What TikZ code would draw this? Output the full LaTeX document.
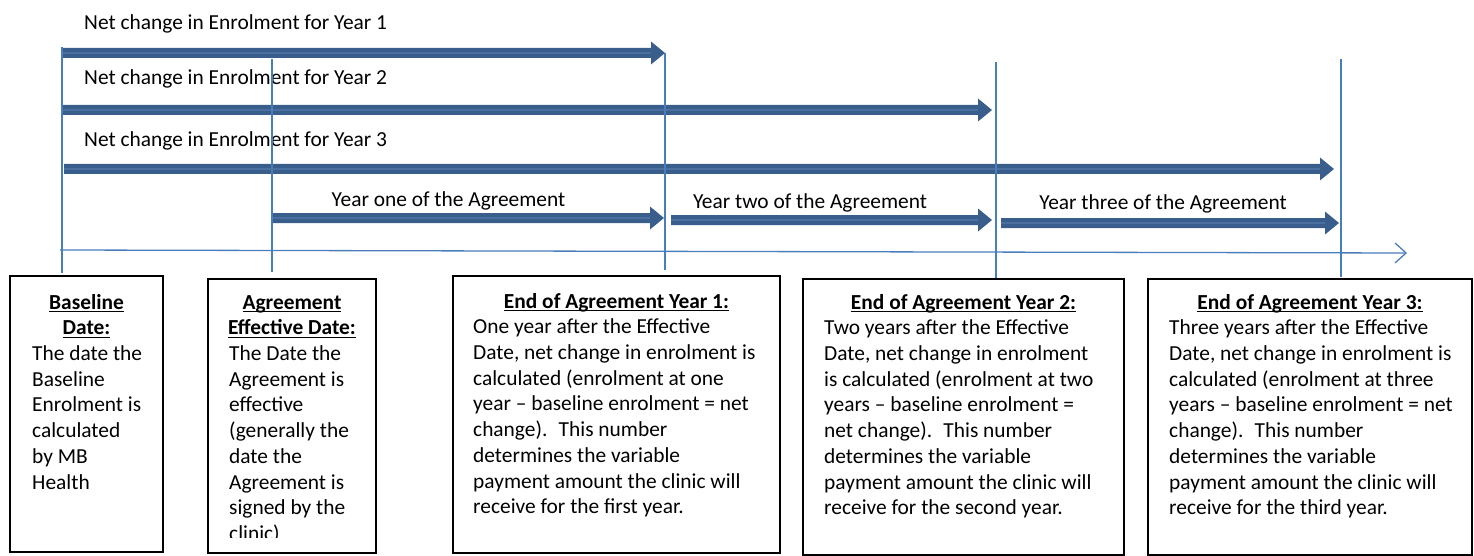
\documentclass[tikz,border=0pt]{standalone}
\usepackage{fontspec}
\setmainfont{Carlito}
\usetikzlibrary{arrows.meta,calc}
\definecolor{arrowdark}{HTML}{395E8C}
\definecolor{arrowlight}{HTML}{4A70A2}
\definecolor{lineblue}{HTML}{4A7EBB}
\newcommand\hdul[1]{\setbox0\hbox{#1}\rlap{\rule[-3.2pt]{\wd0}{1.5pt}}\box0}
\newcommand\barrow[2]{%
  \fill[arrowdark] ($(#1)+(0,-5)$) -- ($(#2)+(-14,-5)$) -- ($(#2)+(-14,-11.5)$) -- (#2)
     -- ($(#2)+(-14,11.5)$) -- ($(#2)+(-14,5)$) -- ($(#1)+(0,5)$) -- cycle;
  \draw[arrowlight, line width=1.6pt] (#1) -- ($(#2)+(-14,0)$);}
\begin{document}
\begin{tikzpicture}[x=1pt,y=-1pt,
  txt/.style={font=\fontsize{21.4}{25.7}\selectfont, inner sep=0pt},
  head/.style={txt, font=\fontsize{21.4}{25.7}\selectfont\bfseries, anchor=north, align=center},
  body/.style={txt, anchor=north west, align=left},
  box/.style={draw=black, line width=1.6pt, fill=none},
  vline/.style={draw=lineblue, line width=1.3pt},
  axis/.style={draw=lineblue, line width=1.3pt, -{Straight Barb[length=11pt,width=20pt]}}]
\useasboundingbox (0,0) rectangle (1474,556);

% labels above arrows
\node[txt, anchor=base west] (l1) at (84,29.7) {Net change in Enrolment for Year 1};
\node[txt, anchor=base west] (l2) at (84,85) {Net change in Enrolment for Year 2};
\node[txt, anchor=base west] (l3) at (84,147) {Net change in Enrolment for Year 3};
\node[txt, anchor=base] (y1) at (448.5,206) {Year one of the Agreement};
\node[txt, anchor=base] (y2) at (810,208) {Year two of the Agreement};
\node[txt, anchor=base] (y3) at (1163,209) {Year three of the Agreement};

% arrow end points
\coordinate (n1s) at (62,53);   \coordinate (n1e) at (665,53);
\coordinate (n2s) at (62,110);  \coordinate (n2e) at (992,110);
\coordinate (n3s) at (64,169);  \coordinate (n3e) at (1334,169);
\coordinate (a1s) at (271,218); \coordinate (a1e) at (664,218);
\coordinate (a2s) at (671,220); \coordinate (a2e) at (992,220);
\coordinate (a3s) at (1001,223);\coordinate (a3e) at (1339,223);
\barrow{n1s}{n1e}
\barrow{n2s}{n2e}
\barrow{n3s}{n3e}
\barrow{a1s}{a1e}
\barrow{a2s}{a2e}
\barrow{a3s}{a3e}

% time axis
\coordinate (ax1) at (60,250);
\coordinate (ax2) at (1407,253);
\draw[axis] (ax1) -- (ax2);

% vertical markers
\coordinate (v1t) at (62,47);    \coordinate (v1b) at (62,273);
\coordinate (v2t) at (272,59);   \coordinate (v2b) at (272,272);
\coordinate (v3t) at (665,53);   \coordinate (v3b) at (665,270);
\coordinate (v4t) at (996,62);   \coordinate (v4b) at (996,278);
\coordinate (v5t) at (1341,59);  \coordinate (v5b) at (1341,277);
\draw[vline] (v1t) -- (v1b);
\draw[vline] (v2t) -- (v2b);
\draw[vline] (v3t) -- (v3b);
\draw[vline] (v4t) -- (v4b);
\draw[vline] (v5t) -- (v5b);

% boxes
\draw[box] (10,276) rectangle (163,552);
\draw[box] (208,279) rectangle (376,553);
\draw[box] (453,276) rectangle (780,553);
\draw[box] (803,279) rectangle (1124,555);
\draw[box] (1148,279) rectangle (1472,555);

% box 1
\node[head] (h1) at (86.5,291) {\strut\hdul{Baseline}\\\strut\hdul{Date:}};
\node[body] (d1) at (32,342.4) {\strut The date the\\Baseline\\Enrolment is\\calculated\\by MB\\Health};

% box 2 (text overflows and is cut by the box)
\node[head] (h2) at (292,291) {\strut\hdul{Agreement}\\\strut\hdul{Effective Date:}};
\begin{scope}
\clip (208,279) rectangle (376,537);
\node[body] (d2) at (229,342.4) {\strut The Date the\\Agreement is\\effective\\(generally the\\date the\\Agreement is\\signed by the\\clinic)};
\end{scope}

% box 3
\node[head] (h3) at (616.5,290) {\strut\hdul{End of Agreement Year 1:}};
\node[body] (d3) at (473,315.7) {\strut One year after the Effective\\Date, net change in enrolment is\\calculated (enrolment at one\\year – baseline enrolment = net\\change).~ This number\\determines the variable\\payment amount the clinic will\\receive for the first year.};

% box 4
\node[head] (h4) at (963.5,291) {\strut\hdul{End of Agreement Year 2:}};
\node[body] (d4) at (824,316.7) {\strut Two years after the Effective\\Date, net change in enrolment\\is calculated (enrolment at two\\years – baseline enrolment =\\net change).~ This number\\determines the variable\\payment amount the clinic will\\receive for the second year.};

% box 5
\node[head] (h5) at (1310,291) {\strut\hdul{End of Agreement Year 3:}};
\node[body] (d5) at (1169,316.7) {\strut Three years after the Effective\\Date, net change in enrolment is\\calculated (enrolment at three\\years – baseline enrolment = net\\change).~ This number\\determines the variable\\payment amount the clinic will\\receive for the third year.};
\end{tikzpicture}
\end{document}
